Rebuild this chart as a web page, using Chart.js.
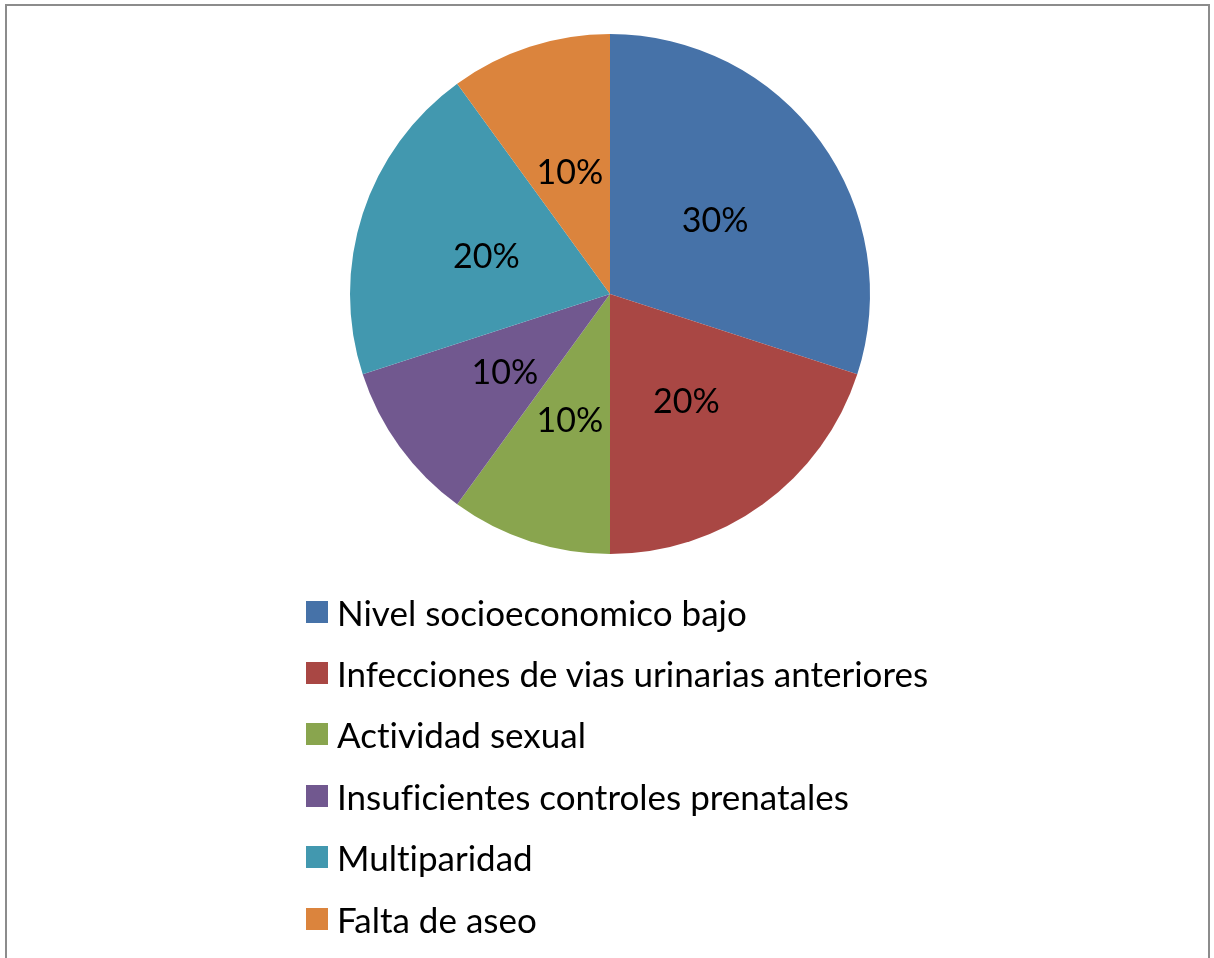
<!DOCTYPE html>
<html lang="es">
<head>
<meta charset="UTF-8" />
<title>Factores de riesgo</title>
<script src="https://cdn.jsdelivr.net/npm/chart.js"></script>
<style>
  html, body { margin: 0; padding: 0; background: #fff; overflow: hidden; }
  body { width: 1214px; height: 958px; position: relative; font-family: Lato, 'Open Sans', sans-serif; }
  .frame {
    position: absolute; left: 5px; top: 4px; width: 1205px; height: 1000px;
    border: 2px solid #8c8c8c; box-sizing: border-box;
  }
  #pie { position: absolute; left: 0; top: 0; }
  #legend { position: absolute; left: 306px; top: 581px; margin: 0; padding: 0; list-style: none; }
  #legend li {
    height: 61.4px; display: flex; align-items: center; font-size: 35px; color: #000;
    font-variant-ligatures: none;
  }
  #legend .sw { width: 22px; height: 22px; margin-right: 9px; flex: none; }
</style>
</head>
<body>
<div class="frame"></div>
<canvas id="pie" width="1214" height="958"></canvas>
<ul id="legend"></ul>

<script>
  const labels = [
    'Nivel socioeconomico bajo',
    'Infecciones de vias urinarias anteriores',
    'Actividad sexual',
    'Insuficientes controles prenatales',
    'Multiparidad',
    'Falta de aseo'
  ];
  const percents = [30, 20, 10, 10, 20, 10];
  const colors = ['#4672a8', '#a94744', '#89a54e', '#71588f', '#4298af', '#db843d'];

  // percentage text in the middle of each slice
  const sliceLabels = {
    id: 'sliceLabels',
    afterDatasetsDraw(chart) {
      const ctx = chart.ctx;
      ctx.save();
      ctx.font = '34px Lato, "Open Sans", sans-serif';
      ctx.fillStyle = '#000';
      ctx.textAlign = 'center';
      ctx.textBaseline = 'middle';
      chart.getDatasetMeta(0).data.forEach((arc, i) => {
        const p = arc.tooltipPosition();
        ctx.fillText(percents[i] + '%', p.x, p.y + 3);
      });
      ctx.restore();
    }
  };

  new Chart(document.getElementById('pie'), {
    type: 'pie',
    data: {
      labels: labels,
      datasets: [{ data: percents, backgroundColor: colors, borderWidth: 0 }]
    },
    options: {
      responsive: false,
      animation: false,
      layout: { padding: { top: 34, bottom: 404, left: 350, right: 344 } },
      plugins: { legend: { display: false }, tooltip: { enabled: false } }
    },
    plugins: [sliceLabels]
  });

  const legend = document.getElementById('legend');
  labels.forEach((name, i) => {
    const li = document.createElement('li');
    const sw = document.createElement('span');
    sw.className = 'sw';
    sw.style.background = colors[i];
    li.appendChild(sw);
    li.appendChild(document.createTextNode(name));
    legend.appendChild(li);
  });
</script>
</body>
</html>
